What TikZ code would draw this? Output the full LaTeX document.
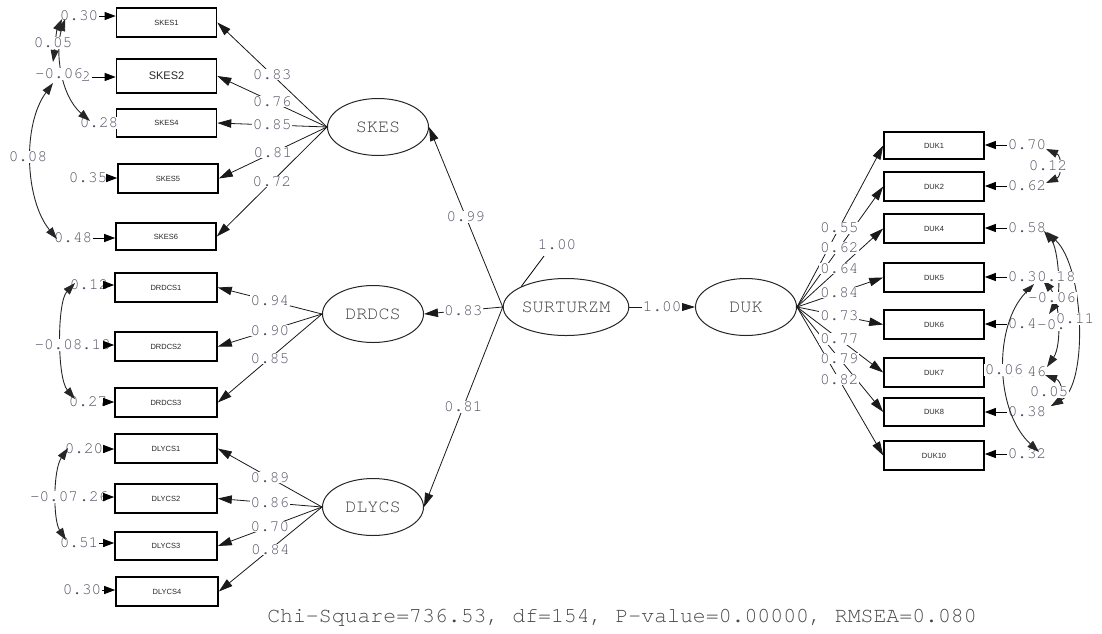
\documentclass[tikz,border=0pt]{standalone}
\usepackage{fontspec}
\setmainfont{Liberation Serif}
\newfontfamily\monof{TeX Gyre Cursor}
\newfontfamily\sansf{Liberation Sans}
\usetikzlibrary{shapes.geometric,arrows.meta}
\definecolor{labc}{RGB}{80,80,98}
\definecolor{elc}{RGB}{64,64,64}
\begin{document}
\begin{tikzpicture}[x=1pt,y=-1pt,
  obs/.style={draw=black,line width=1.6pt,minimum width=100pt,minimum height=28pt,inner sep=0pt,font=\sansf\fontsize{7.5}{7.5}\selectfont,text=black!85},
  lat/.style={ellipse,draw=black!85,line width=1pt,minimum width=101pt,minimum height=57pt,inner sep=0pt,font=\monof\fontsize{18.5}{18.5}\selectfont,text=elc},
  num/.style={font=\monof\fontsize{16}{16}\selectfont,text=labc,fill=white,inner sep=0.6pt},
  ld/.style={line width=0.8pt,draw=black!90,-{Triangle[length=14pt,width=8.5pt]}},
  er/.style={line width=1pt,-{Triangle[length=11pt,width=8pt]}},
  cv/.style={line width=0.9pt,draw=black!85,{Triangle[length=12pt,width=8pt]}-{Triangle[length=12pt,width=8pt]}},
]
\useasboundingbox (0,0) rectangle (1102,633);

% observed variables, left
\node[obs,minimum height=29pt] (s1) at (166.5,22.5) {SKES1};
\node[obs,minimum height=34pt,font=\sansf\fontsize{11}{11}\selectfont] (s2) at (166.5,76) {SKES2};
\node[obs,minimum height=28pt] (s4) at (166.5,123) {SKES4};
\node[obs,minimum height=29pt] (s5) at (168,178.5) {SKES5};
\node[obs,minimum height=27pt] (s6) at (166,236.5) {SKES6};
\node[obs,minimum height=29pt,minimum width=102pt] (d1) at (166,287.5) {DRDCS1};
\node[obs,minimum height=29pt,minimum width=102pt] (d2) at (166,346.5) {DRDCS2};
\node[obs,minimum height=29pt,minimum width=102pt] (d3) at (166,402.5) {DRDCS3};
\node[obs,minimum height=29pt,minimum width=102pt] (l1) at (166,448.5) {DLYCS1};
\node[obs,minimum height=29pt,minimum width=102pt] (l2) at (166,498.5) {DLYCS2};
\node[obs,minimum height=28pt,minimum width=102pt] (l3) at (166,546) {DLYCS3};
\node[obs,minimum height=29pt,minimum width=102pt] (l4) at (167,591.5) {DLYCS4};

% observed variables, right
\node[obs,minimum height=27pt] (u1) at (934,145.5) {DUK1};
\node[obs,minimum height=29pt] (u2) at (934,186.5) {DUK2};
\node[obs,minimum height=29pt] (u4) at (934,228.5) {DUK4};
\node[obs,minimum height=29pt] (u5) at (934,277.5) {DUK5};
\node[obs,minimum height=29pt] (u6) at (934,324.5) {DUK6};
\node[obs,minimum height=29pt] (u7) at (934,372.5) {DUK7};
\node[obs,minimum height=28pt] (u8) at (934,412) {DUK8};
\node[obs,minimum height=29pt] (u10) at (934,455.5) {DUK10};

% latent variables
\node[lat] (skes) at (378,127) {SKES};
\node[lat] (drdcs) at (373,314) {DRDCS};
\node[lat] (dlycs) at (373,507) {DLYCS};
\node[lat] (surt) at (566,307) {SURTURZM};
\node[lat] (duk) at (746,307) {DUK};

% loadings
\foreach \b in {s1,s2,s4,s5,s6} \draw[ld] (skes.west) -- (\b.east);
\foreach \b in {d1,d2,d3} \draw[ld] (drdcs.west) -- (\b.east);
\foreach \b in {l1,l2,l3,l4} \draw[ld] (dlycs.west) -- (\b.east);
\foreach \b in {u1,u2,u4,u5,u6,u7,u8,u10} \draw[ld] (duk.east) -- (\b.west);

% structural paths
\draw[ld] (surt.west) -- (skes.east);
\draw[ld] (surt.west) -- (drdcs.east);
\draw[ld] (surt.west) -- (dlycs.east);
\draw[ld] (surt.east) -- (duk.west);
\coordinate (se) at (544,256);
\draw[line width=0.8pt] (surt.north west) -- (se);
\node[num] (sev) at (557,245) {1.00};

% error variances, left
\node[num] (e1) at (79,16) {0.30};
\node[num] (e2) at (86,77) {2};
\node[num] (e4) at (99,123) {0.28};
\node[num] (e5) at (88,178) {0.35};
\node[num] (e6) at (73,238) {0.48};
\node[num] (ed1) at (89,285) {0.12};
\node[num] (ed2) at (91.5,345) {0.18};
\node[num] (ed3) at (88,402) {0.27};
\node[num] (el1) at (84,449) {0.20};
\node[num] (el2) at (89,497) {0.26};
\node[num] (el3) at (79,543) {0.51};
\node[num] (el4) at (82,590) {0.30};
\draw[er] (e1.east) -- (e1.east -| s1.west);
\draw[er] (e2.east) -- (e2.east -| s2.west);
\draw[er] (e5.east) -- (e5.east -| s5.west);
\draw[er] (e6.east) -- (e6.east -| s6.west);
\draw[er] (ed1.east) -- (ed1.east -| d1.west);
\draw[er] (ed2.east) -- (ed2.east -| d2.west);
\draw[er] (ed3.east) -- (ed3.east -| d3.west);
\draw[er] (el1.east) -- (el1.east -| l1.west);
\draw[er] (el2.east) -- (el2.east -| l2.west);
\draw[er] (el3.east) -- (el3.east -| l3.west);
\draw[er] (el4.east) -- (el4.east -| l4.west);

% error variances, right
\node[num,anchor=west] (f1) at (1007,145) {0.70};
\node[num,anchor=west] (f2) at (1007,186) {0.62};
\node[num,anchor=west] (f4) at (1007,228) {0.58};
\node[num,anchor=west] (f5) at (1007,277) {0.30};
\node[num,anchor=west] (f6) at (1007,324) {0.4};
\node[num,anchor=west] (f7) at (1007,372) {0.46};
\node[num,anchor=west] (f8) at (1007,412) {0.38};
\node[num,anchor=west] (f10) at (1007,454) {0.32};
\foreach \f/\b in {f1/u1,f2/u2,f4/u4,f5/u5,f6/u6,f7/u7,f8/u8,f10/u10}
  \draw[er] (\f.west) -- (\f.west -| \b.east);

% covariances, left
\draw[cv] (62,19) .. controls (56,32) and (55,48) .. (53,62);
\draw[cv] (65,19) .. controls (55,50) and (60,95) .. (90,121);
\draw[cv] (53,83) .. controls (22,125) and (25,200) .. (57,239);
\draw[cv] (75,283) .. controls (57,302) and (57,378) .. (75,399);
\draw[cv] (68,448) .. controls (53,470) and (53,520) .. (66,540);

% covariances, right
\draw[cv] (1046,149) .. controls (1062,156) and (1062,176) .. (1046,183);
\draw[cv] (1044,231) .. controls (1058,248) and (1062,295) .. (1049,314);
\draw[cv] (1043,280) .. controls (1060,300) and (1062,345) .. (1047,367);
\draw[cv] (1047,232) .. controls (1085,268) and (1088,385) .. (1051,406);
\draw[cv] (1045,375) .. controls (1062,381) and (1064,398) .. (1051,406);
\draw[cv] (1034,284) .. controls (994,325) and (994,410) .. (1039,452);

% loading labels
\foreach \b/\v in {s1/0.83,s2/0.76,s4/0.85,s5/0.81,s6/0.72}
  \path (skes.west) -- (\b.east) node[num,pos=0.5] {\v};
\foreach \b/\v in {d1/0.94,d2/0.90,d3/0.85}
  \path (drdcs.west) -- (\b.east) node[num,pos=0.5] {\v};
\foreach \b/\v in {l1/0.89,l2/0.86,l3/0.70,l4/0.84}
  \path (dlycs.west) -- (\b.east) node[num,pos=0.5] {\v};
\foreach \b/\v in {u1/0.55,u2/0.62,u4/0.64,u5/0.84,u6/0.73,u7/0.77,u8/0.79,u10/0.82}
  \path (duk.east) -- (\b.west) node[num,pos=0.49] {\v};
\path (surt.west) -- (skes.east) node[num,pos=0.5] {0.99};
\path (surt.west) -- (drdcs.east) node[num,pos=0.5] {0.83};
\path (surt.west) -- (dlycs.east) node[num,pos=0.5] {0.81};
\path (surt.east) -- (duk.west) node[num,pos=0.5] {1.00};

% covariance labels, left
\node[num] (c1) at (53,43) {0.05};
\node[num] (c2) at (59,74) {-0.06};
\node[num] (c3) at (28,157) {0.08};
\node[num] (c4) at (58.5,345) {-0.08};
\node[num] (c5) at (54,497) {-0.07};

% covariance labels, right
\node[num] (k1) at (1048,166) {0.12};
\node[num,anchor=west] (k2) at (1036.4,277) {0.18};
\node[num] (k3) at (1052,298) {-0.06};
\node[num,anchor=west] (k4) at (1036.4,325) {-0.};
\node[num] (k5) at (1075,319) {0.11};
\node[num] (k6) at (1049,392) {0.05};
\node[num] (k7) at (1004,370) {0.06};

% fit statistics
\node[font=\monof\fontsize{21.5}{21.5}\selectfont,text=black!72] (fit) at (622,618) {Chi-Square=736.53, df=154, P-value=0.00000, RMSEA=0.080};
\end{tikzpicture}
\end{document}
